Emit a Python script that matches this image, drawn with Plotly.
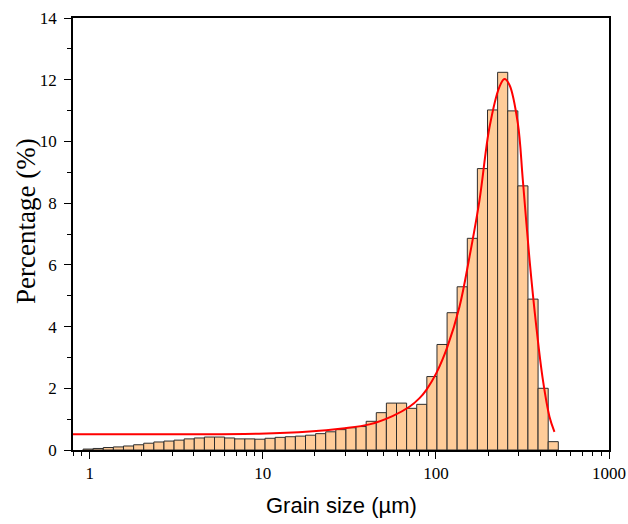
import plotly.graph_objects as go

# Bin edges (µm) of the grain-size classes
bin_edges = [0.915, 1.046, 1.197, 1.369, 1.566, 1.792, 2.050, 2.345, 2.683, 3.069,
             3.511, 4.016, 4.595, 5.256, 6.013, 6.879, 7.869, 9.002, 10.30, 11.78,
             13.48, 15.42, 17.64, 20.18, 23.08, 26.40, 30.20, 34.56, 39.54, 45.23,
             51.74, 59.19, 67.71, 77.44, 88.61, 101.4, 116.0, 132.6, 151.8, 173.6,
             198.6, 227.2, 259.9, 297.4, 340.2, 389.2, 445.3, 509.4]

# Percentage of each class
percentages = [0.03, 0.05, 0.08, 0.10, 0.13, 0.17, 0.22, 0.26, 0.29, 0.32,
               0.36, 0.39, 0.42, 0.42, 0.39, 0.36, 0.36, 0.35, 0.38, 0.41,
               0.43, 0.45, 0.48, 0.53, 0.59, 0.66, 0.72, 0.76, 0.93, 1.21,
               1.52, 1.52, 1.35, 1.48, 2.38, 3.42, 4.45, 5.29, 6.86, 9.12,
               11.02, 12.24, 10.99, 8.56, 4.89, 2.00, 0.27]

# Fitted curve points
fit_size = [0.8, 2.9, 9.5, 18.6, 28.8, 41.3, 56.1, 70.3, 80.4, 88.1, 100.7, 116.6,
            136.8, 156.3, 178.6, 203.8, 232.9, 248.9, 266.1, 297.3, 317.8, 347.5,
            380.2, 415.0, 453.0, 484.0]
fit_pct = [0.51, 0.51, 0.53, 0.60, 0.70, 0.83, 1.10, 1.40, 1.68, 1.95, 2.50, 3.35,
           4.64, 6.26, 8.10, 10.45, 11.77, 12.02, 11.83, 10.59, 8.75, 6.16,
           4.00, 2.27, 1.08, 0.59]

x_tick_vals = [1, 10, 100, 1000]
x_tick_text = ["1", "10", "100", "1000"]
y_tick_vals = [0, 2, 4, 6, 8, 10, 12, 14]

bar_mid = [(a + b) / 2 for a, b in zip(bin_edges[:-1], bin_edges[1:])]
bar_w = [b - a for a, b in zip(bin_edges[:-1], bin_edges[1:])]

minor_x = []
for dec in [0.1, 1, 10, 100]:
    for m in range(2, 10):
        v = m * dec
        if 0.8 <= v < 1000:
            minor_x.append(v)

fig = go.Figure()
fig.add_trace(go.Bar(
    x=bar_mid, y=percentages, width=bar_w,
    marker=dict(color="rgb(255,204,153)", line=dict(color="rgb(45,45,45)", width=1)),
    showlegend=False, hoverinfo="skip",
))
fig.add_trace(go.Scatter(
    x=fit_size, y=fit_pct, mode="lines",
    line=dict(color="red", width=2, shape="spline", smoothing=1.0),
    showlegend=False,
))

serif = "Liberation Serif, Times New Roman, serif"
fig.update_layout(
    template="none",
    width=628, height=524,
    margin=dict(l=73, r=19, t=18, b=74, autoexpand=False),
    paper_bgcolor="white", plot_bgcolor="white",
    font=dict(family=serif, size=17, color="black"),
    annotations=[
        dict(text="Percentage (%)", textangle=-90, xref="paper", yref="paper",
             x=-0.0877, y=0.530, xanchor="center", yanchor="middle", showarrow=False,
             font=dict(family=serif, size=27, color="black")),
        dict(text="Grain size (µm)", xref="paper", yref="paper",
             x=0.5, y=-0.1296, xanchor="center", yanchor="middle", showarrow=False,
             font=dict(family="Liberation Sans, Arial, sans-serif", size=22, color="black")),
    ],
)
fig.update_xaxes(
    type="log", range=[-0.0969, 3], automargin=False,
    tickvals=x_tick_vals, ticktext=x_tick_text,
    ticks="outside", ticklen=7, tickwidth=1.3, tickcolor="black",
    minor=dict(tickvals=minor_x, ticks="outside", ticklen=4, tickwidth=1.2, tickcolor="black",
               showgrid=False),
    showline=True, linecolor="black", linewidth=1.5, mirror=True,
    showgrid=False, zeroline=False,
    tickfont=dict(family=serif, size=17, color="black"),
)
fig.update_yaxes(
    range=[0, 14], tickvals=y_tick_vals, automargin=False,
    ticks="outside", ticklen=7, tickwidth=1.3, tickcolor="black",
    minor=dict(dtick=1, ticks="outside", ticklen=4, tickwidth=1.2, tickcolor="black",
               showgrid=False),
    showline=True, linecolor="black", linewidth=1.5, mirror=True,
    showgrid=False, zeroline=False,
    tickfont=dict(family=serif, size=17, color="black"),
    ticklabelstandoff=4,
)

fig.write_html("out.html", config={"displayModeBar": False},
               post_script="document.body.style.margin='0';document.body.style.overflow='hidden';")
